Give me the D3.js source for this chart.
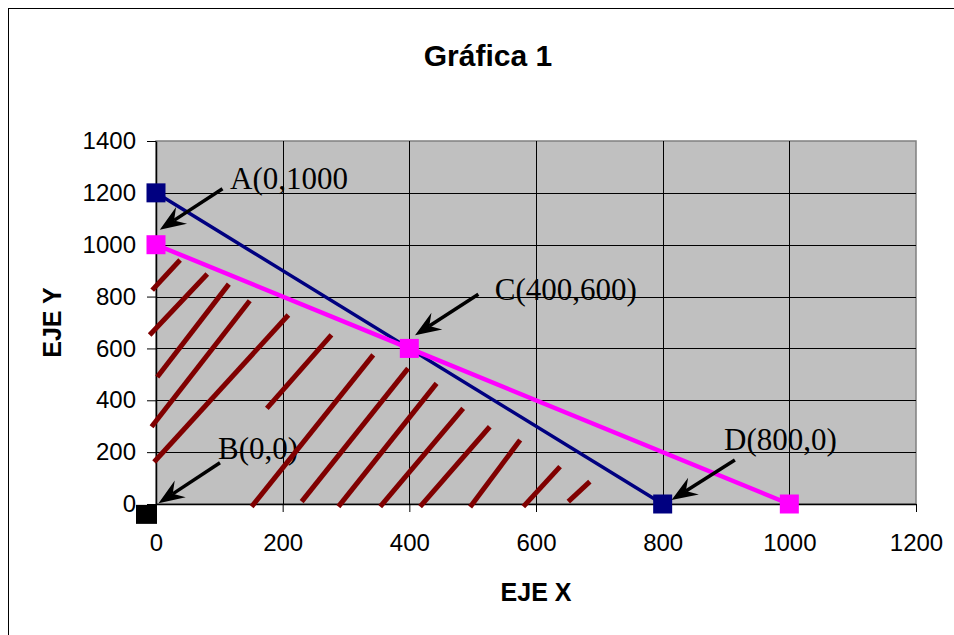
<!DOCTYPE html>
<html><head><meta charset="utf-8">
<script src="https://cdn.jsdelivr.net/npm/d3@7"></script>
<style>body{margin:0;background:#fff}svg{display:block}</style>
</head><body>
<svg id="c" width="954" height="635"></svg>
<script>
const title = "Gráfica 1";
const xLabel = "EJE X";
const yLabel = "EJE Y";
const xTicks = [0, 200, 400, 600, 800, 1000, 1200];
const yTicks = [0, 200, 400, 600, 800, 1000, 1200, 1400];
// navy series
const navyX = [0, 800];
const navyY = [1200, 0];
// magenta series
const pinkX = [0, 400, 1000];
const pinkY = [1000, 600, 0];
// black point B
const blackX = [-15];
const blackY = [-40];
// hatch strokes (data coords)
const hatchX1 = [-6, -10, 2, -7, -3, 175, 151, 230, 288, 354, 417, 496, 580, 651];
const hatchY1 = [825, 652, 490, 298, 162, 369, -10, 9, -10, -10, -10, -12, -10, 9];
const hatchX2 = [38, 81, 115, 148, 209, 277, 343, 398, 443, 485, 527, 575, 638, 685];
const hatchY2 = [941, 887, 848, 784, 729, 652, 575, 523, 465, 369, 298, 247, 144, 86];
// annotations
const annText = ["A(0,1000", "B(0,0)", "C(400,600)", "D(800,0)"];
const annLabelX = [117, 98, 535, 897];
const annLabelY = [1213, 173, 786, 208];
const annTailX = [105, 101, 509, 914];
const annTailY = [1216, 159, 809, 170];
const annTipX = [6, 4, 409, 814];
const annTipY = [1058, 3, 651, 15];

const svg = d3.select("#c");
const sans = "'Liberation Sans', Arial, sans-serif";
const serif = "'Liberation Serif', 'Times New Roman', serif";

const x = d3.scaleLinear().domain([0, 1200]).range([156, 916]);
const y = d3.scaleLinear().domain([0, 1400]).range([504, 141]);

// outer frame
svg.append("rect").attr("x", 8.5).attr("y", 8.5).attr("width", 980).attr("height", 660)
  .attr("fill", "#fff").attr("stroke", "#000").attr("stroke-width", 1);

// plot area
svg.append("rect").attr("x", x(0)).attr("y", y(1400)).attr("width", x(1200) - x(0)).attr("height", y(0) - y(1400))
  .attr("fill", "#c0c0c0").attr("stroke", "#808080").attr("stroke-width", 1.5);

// gridlines
const grid = svg.append("g").attr("stroke", "#000").attr("stroke-width", 1);
xTicks.filter(v => v > 0 && v < 1200).forEach(v => {
  grid.append("line").attr("x1", Math.round(x(v)) + 0.5).attr("x2", Math.round(x(v)) + 0.5)
    .attr("y1", y(1400)).attr("y2", y(0));
});
yTicks.filter(v => v > 0 && v < 1400).forEach(v => {
  grid.append("line").attr("y1", Math.round(y(v)) + 0.5).attr("y2", Math.round(y(v)) + 0.5)
    .attr("x1", x(0)).attr("x2", x(1200));
});

// axes
const fmt = d3.format("d");
const yAxis = svg.append("g").attr("transform", `translate(${x(0)},0)`)
  .call(d3.axisLeft(y).tickValues(yTicks).tickFormat(fmt).tickSize(9).tickSizeOuter(0).tickPadding(11));
const xAxis = svg.append("g").attr("transform", `translate(0,${y(0)})`)
  .call(d3.axisBottom(x).tickValues(xTicks).tickFormat(fmt).tickSize(8).tickSizeOuter(0).tickPadding(22));
[yAxis, xAxis].forEach(a => {
  a.selectAll("path").attr("stroke", "#000").attr("stroke-width", 1.5);
  a.selectAll("line").attr("stroke", "#000").attr("stroke-width", 1);
  a.selectAll("text").attr("font-family", sans).attr("font-size", 24).attr("fill", "#000");
});

// titles
svg.append("text").attr("x", 488).attr("y", 66).attr("text-anchor", "middle")
  .attr("font-family", sans).attr("font-weight", "bold").attr("font-size", 30).text(title);
svg.append("text").attr("x", 536).attr("y", 601).attr("text-anchor", "middle")
  .attr("font-family", sans).attr("font-weight", "bold").attr("font-size", 25).text(xLabel);
svg.append("text").attr("transform", `translate(61,${(y(0) + y(1400)) / 2}) rotate(-90)`)
  .attr("text-anchor", "middle")
  .attr("font-family", sans).attr("font-weight", "bold").attr("font-size", 25).text(yLabel);

// annotation labels
annText.forEach((t, i) => {
  svg.append("text").attr("x", x(annLabelX[i])).attr("y", y(annLabelY[i]))
    .attr("font-family", serif).attr("font-size", 31).attr("fill", "#000").text(t);
});

// hatch
const hatch = svg.append("g").attr("stroke", "#800000").attr("stroke-width", 5);
hatchX1.forEach((v, i) => {
  hatch.append("line").attr("x1", x(v)).attr("y1", y(hatchY1[i]))
    .attr("x2", x(hatchX2[i])).attr("y2", y(hatchY2[i]));
});

// series lines
const lineGen = d3.line().x(d => x(d[0])).y(d => y(d[1]));
const navyPts = navyX.map((v, i) => [v, navyY[i]]);
const pinkPts = pinkX.map((v, i) => [v, pinkY[i]]);
svg.append("path").attr("d", lineGen(navyPts)).attr("fill", "none").attr("stroke", "#000080").attr("stroke-width", 3.5);
svg.append("g").selectAll("rect").data(navyPts).join("rect")
  .attr("x", d => x(d[0]) - 9.5).attr("y", d => y(d[1]) - 9.5).attr("width", 19).attr("height", 19).attr("fill", "#000080");
svg.append("path").attr("d", lineGen(pinkPts)).attr("fill", "none").attr("stroke", "#ff00ff").attr("stroke-width", 4.5);
svg.append("g").selectAll("rect").data(pinkPts).join("rect")
  .attr("x", d => x(d[0]) - 9.5).attr("y", d => y(d[1]) - 9.5).attr("width", 19).attr("height", 19).attr("fill", "#ff00ff");
const blackPts = blackX.map((v, i) => [v, blackY[i]]);
svg.append("g").selectAll("rect").data(blackPts).join("rect")
  .attr("x", d => x(d[0]) - 10.5).attr("y", d => y(d[1]) - 9.5).attr("width", 21).attr("height", 19).attr("fill", "#000");

// arrows
annText.forEach((t, i) => {
  const x0 = x(annTailX[i]), y0 = y(annTailY[i]);
  const x1 = x(annTipX[i]), y1 = y(annTipY[i]);
  const dx = x1 - x0, dy = y1 - y0, len = Math.hypot(dx, dy);
  const ux = dx / len, uy = dy / len, px = -uy, py = ux;
  const L = 26, W = 10, N = 17;
  svg.append("line").attr("x1", x0).attr("y1", y0)
    .attr("x2", x1 - ux * N).attr("y2", y1 - uy * N).attr("stroke", "#000").attr("stroke-width", 3.5);
  const pts = [
    [x1, y1],
    [x1 - ux * L + px * W, y1 - uy * L + py * W],
    [x1 - ux * N, y1 - uy * N],
    [x1 - ux * L - px * W, y1 - uy * L - py * W]
  ];
  svg.append("path").attr("d", "M" + pts.map(p => p.join(",")).join("L") + "Z").attr("fill", "#000");
});
</script>
</body></html>
